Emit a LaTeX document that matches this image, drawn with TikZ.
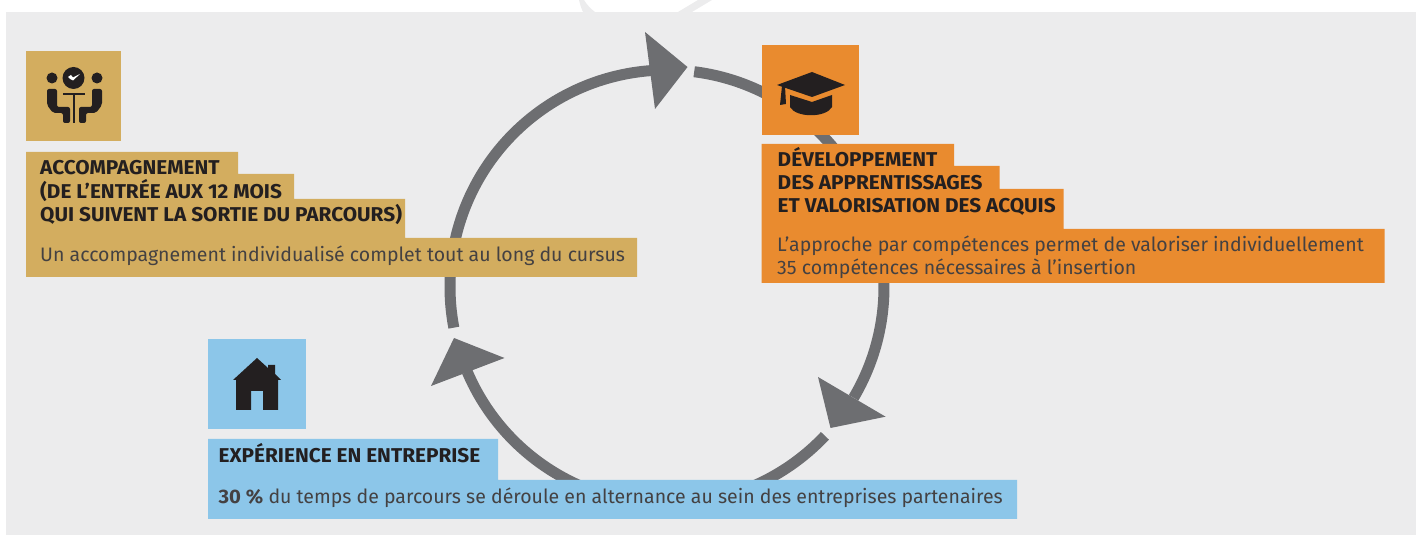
\documentclass[tikz,border=0pt]{standalone}
\usepackage{fontspec}
\setmainfont{Fira Sans}
\newfontfamily\headfont[FakeStretch=1.04]{Fira Sans}
\newfontfamily\bodyfont[FakeStretch=1.0]{Fira Sans}
\definecolor{gold}{HTML}{D3AD5F}
\definecolor{orangeb}{HTML}{E98B2F}
\definecolor{blueb}{HTML}{8CC6E9}
\definecolor{panel}{HTML}{ECECED}
\definecolor{arrowg}{HTML}{6D6E71}
\definecolor{ink}{HTML}{231F20}
\tikzset{
  x=1pt,y=1pt,
  head/.style={anchor=base west,inner sep=0pt,text=ink,font=\headfont\bfseries\fontsize{20}{23}\selectfont},
  body/.style={anchor=base west,inner sep=0pt,text=ink!85,font=\bodyfont\fontsize{19.5}{23}\selectfont},
  shaft/.style={draw=arrowg,line width=11pt,line cap=butt},
  tip/.style={fill=arrowg,draw=none},
  glyph/.style={fill=ink,draw=none},
}
\begin{document}
\begin{tikzpicture}
\useasboundingbox (0,0) rectangle (1421,535);
\fill[panel] (5.5,0) rectangle (1415.5,523);
% bands of a ring above the panel
\fill[panel] (579,535) -- (584,535) .. controls (587,530) and (591,526) .. (595,523) -- (583,523) .. controls (581,527) and (580,531) .. (579,535) -- cycle;
\fill[panel] (698,535) -- (712,535) -- (692,523) -- (678,523) -- cycle;
% cycle
\coordinate (c) at (667,248);
\draw[shaft] (c) ++(190.8:217) arc[start angle=190.8,end angle=93.2,radius=217];
\draw[shaft] (c) ++(82.8:217) arc[start angle=82.8,end angle=-30.7,radius=217];
\draw[shaft] (c) ++(-43.3:217) arc[start angle=-43.3,end angle=-157,radius=217];
\fill[tip] (687.5,468) -- (645,503) -- (655,426) -- cycle;
\fill[tip] (830.5,107) -- (818,158) -- (885.6,118.3) -- cycle;
\fill[tip] (454,197) -- (504.5,177) -- (431,149) -- cycle;
% gold block
\fill[gold] (26,484) rectangle (121,394);
\fill[gold] (26,383) -- (238,383) -- (238,361) -- (294,361) -- (294,336) -- (405,336) -- (405,297) -- (637,297) -- (637,258) -- (26,258) -- cycle;
\node[head] (g1) at (40,360) {ACCOMPAGNEMENT};
\node[head] (g2) at (40,336) {(DE L’ENTRÉE AUX 12 MOIS};
\node[head] (g3) at (40,313) {QUI SUIVENT LA SORTIE DU PARCOURS)};
\node[body] (g4) at (40,273) {Un accompagnement individualisé complet tout au long du cursus};
% meeting icon
\fill[glyph] (73.5,457) circle (11);
\fill[white] (68,458) -- (70,456) -- (73,454.5) -- (80,461) -- (73,457.5) -- (71,460) -- cycle;
\fill[glyph] (52,457) circle (5.5);
\fill[glyph] (97,457) circle (5.5);
\draw[ink,line width=2pt] (63,441) -- (85,441);
\draw[ink,line width=2.5pt] (74,441) -- (74,412);
\fill[glyph,rounded corners=2pt] (47,446) -- (57,446) -- (57,428) -- (70,428) -- (70,412) -- (63,412) -- (63,422) -- (53,422) -- (47,430) -- cycle;
\fill[glyph,rounded corners=2pt] (102,446) -- (92,446) -- (92,428) -- (79,428) -- (79,412) -- (86,412) -- (86,422) -- (96,422) -- (102,430) -- cycle;
% orange block
\fill[orangeb] (761.5,490) rectangle (858.5,400);
\fill[orangeb] (761.5,391) -- (954,391) -- (954,369) -- (999.5,369) -- (999.5,346) -- (1063.5,346) -- (1063.5,306) -- (1384.5,306) -- (1384.5,252) -- (761.5,252) -- cycle;
\node[head] (o1) at (777.5,368) {DÉVELOPPEMENT};
\node[head] (o2) at (777.5,345) {DES APPRENTISSAGES};
\node[head] (o3) at (777.5,322) {ET VALORISATION DES ACQUIS};
\node[body] (o4) at (777,283) {L’approche par compétences permet de valoriser individuellement};
\node[body] (o5) at (777,260) {35 compétences nécessaires à l’insertion};
% mortarboard
\fill[glyph] (812,463) -- (845,450) -- (812,438) -- (777,450) -- cycle;
\fill[glyph] (790,440) -- (812,433) -- (832,440) -- (832,428) .. controls (826,417) and (796,417) .. (790,428) -- cycle;
\fill[glyph] (782,449) -- (785,449) -- (786,431) -- (780,430) -- cycle;
% blue block
\fill[blueb] (208,196) rectangle (306,106);
\fill[blueb] (208,96) -- (498,96) -- (498,55) -- (1017,55) -- (1017,16) -- (208,16) -- cycle;
\node[head] (b1) at (218.5,72) {EXPÉRIENCE EN ENTREPRISE};
\node[body] (b2) at (218.5,31) {{\headfont\bfseries\fontsize{19.5}{23}\selectfont 30 \%} du temps de parcours se déroule en alternance au sein des entreprises partenaires};
% house
\fill[glyph] (233,155) -- (257,177) -- (268,167) -- (268,170) -- (275,170) -- (275,161) -- (281,155) -- (278,155) -- (278,125) -- (263,125) -- (263,144) -- (251,144) -- (251,125) -- (236,125) -- (236,155) -- cycle;
\end{tikzpicture}
\end{document}
